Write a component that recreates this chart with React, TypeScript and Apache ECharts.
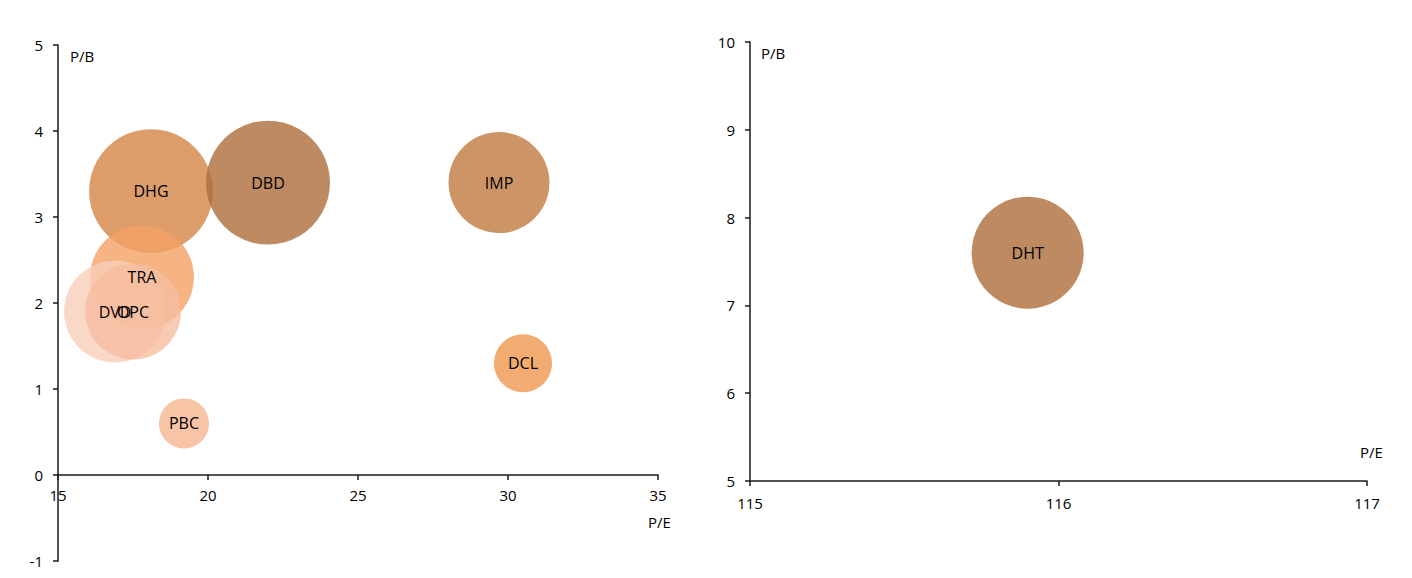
import React, { useEffect, useRef } from "react";
import * as echarts from "echarts";

// ---- Data ----
const leftNames = ["DHG", "DBD", "IMP", "TRA", "DVD", "OPC", "DCL", "PBC"];
const leftPE = [18.1, 22.0, 29.7, 17.8, 16.9, 17.5, 30.5, 19.2];
const leftPB = [3.3, 3.4, 3.4, 2.3, 1.9, 1.9, 1.3, 0.6];
const leftSize = [38.4, 38.4, 25.5, 27.0, 26.0, 23.0, 8.4, 6.25];

const rightNames = ["DHT"];
const rightPE = [115.9];
const rightPB = [7.6];
const rightSize = [31.4];

const leftXTicks = [15, 20, 25, 30, 35];
const leftYTicks = [-1, 0, 1, 2, 3, 4, 5];
const rightXTicks = [115, 116, 117];
const rightYTicks = [5, 6, 7, 8, 9, 10];

// ---- Styles ----
const bubbleColors: Record<string, string> = {
  DHG: "rgba(211,133,70,0.8)",
  DBD: "rgba(173,109,58,0.8)",
  IMP: "rgba(193,123,64,0.8)",
  TRA: "rgba(244,161,101,0.8)",
  DVD: "rgba(249,206,186,0.8)",
  OPC: "rgba(246,189,159,0.8)",
  DCL: "rgba(239,151,79,0.8)",
  PBC: "rgba(246,181,144,0.8)",
  DHT: "rgba(174,109,59,0.8)",
};

const FONT = "'Open Sans', 'Noto Sans', sans-serif";
const AXIS_COLOR = "#1a1a1a";

const L_GRID = { left: 58, top: 45, width: 600, height: 516 };
const R_GRID = { left: 750, top: 42, width: 617, height: 439 };

function buildData(names: string[], pe: number[], pb: number[], size: number[]) {
  return names.map((n, i) => ({
    name: n,
    value: [pe[i], pb[i], size[i]],
    itemStyle: { color: bubbleColors[n], opacity: 1 },
  }));
}

function axisCommon() {
  return {
    type: "value" as const,
    splitLine: { show: false },
    axisLine: { show: true, onZero: false, lineStyle: { color: AXIS_COLOR, width: 1.5 } },
    axisTick: { show: true, length: 5, lineStyle: { color: AXIS_COLOR, width: 1.5 } },
    axisLabel: { color: "#000", fontSize: 15, fontFamily: FONT },
  };
}

export default function App() {
  const ref = useRef<HTMLDivElement>(null);

  useEffect(() => {
    if (!ref.current) return;
    const chart = echarts.init(ref.current, undefined, { renderer: "svg" });

    const labelStyle = {
      show: true,
      position: "inside" as const,
      formatter: "{b}",
      color: "#000",
      opacity: 1,
      fontSize: 16,
      fontFamily: FONT,
    };

    const lyMin = leftYTicks[0];
    const lyMax = leftYTicks[leftYTicks.length - 1];
    const zeroOffset = -((0 - lyMin) / (lyMax - lyMin)) * L_GRID.height;

    chart.setOption({
      animation: false,
      backgroundColor: "#fff",
      grid: [
        { ...L_GRID, outerBoundsMode: "none", containLabel: false },
        { ...R_GRID, outerBoundsMode: "none", containLabel: false },
      ],
      xAxis: [
        {
          ...axisCommon(),
          gridIndex: 0,
          position: "bottom",
          offset: zeroOffset,
          min: leftXTicks[0],
          max: leftXTicks[leftXTicks.length - 1],
          interval: 5,
          axisLabel: { ...axisCommon().axisLabel, margin: 12 },
        },
        {
          ...axisCommon(),
          gridIndex: 1,
          min: rightXTicks[0],
          max: rightXTicks[rightXTicks.length - 1],
          interval: 1,
          axisLabel: { ...axisCommon().axisLabel, margin: 14 },
        },
      ],
      yAxis: [
        {
          ...axisCommon(),
          gridIndex: 0,
          min: lyMin,
          max: lyMax,
          interval: 1,
          axisLabel: { ...axisCommon().axisLabel, margin: 15 },
        },
        {
          ...axisCommon(),
          gridIndex: 1,
          min: rightYTicks[0],
          max: rightYTicks[rightYTicks.length - 1],
          interval: 1,
          axisLabel: { ...axisCommon().axisLabel, margin: 15 },
        },
      ],
      series: [
        {
          type: "scatter",
          xAxisIndex: 0,
          yAxisIndex: 0,
          symbol: "circle",
          symbolSize: (v: number[]) => 20 * Math.sqrt(v[2]),
          label: labelStyle,
          emphasis: { disabled: true },
          data: buildData(leftNames, leftPE, leftPB, leftSize),
        },
        {
          type: "scatter",
          xAxisIndex: 1,
          yAxisIndex: 1,
          symbol: "circle",
          symbolSize: (v: number[]) => 20 * Math.sqrt(v[2]),
          label: labelStyle,
          emphasis: { disabled: true },
          data: buildData(rightNames, rightPE, rightPB, rightSize),
        },
      ],
      graphic: [
        {
          type: "text",
          x: 70,
          y: 56,
          style: { text: "P/B", fill: "#000", font: `15px ${FONT}`, verticalAlign: "middle" },
        },
        {
          type: "text",
          x: 648,
          y: 522,
          style: { text: "P/E", fill: "#000", font: `15px ${FONT}`, verticalAlign: "middle" },
        },
        {
          type: "text",
          x: 761,
          y: 53,
          style: { text: "P/B", fill: "#000", font: `15px ${FONT}`, verticalAlign: "middle" },
        },
        {
          type: "text",
          x: 1360,
          y: 452,
          style: { text: "P/E", fill: "#000", font: `15px ${FONT}`, verticalAlign: "middle" },
        },
      ],
    });

    return () => chart.dispose();
  }, []);

  return (
    <div
      ref={ref}
      style={{ position: "absolute", left: 0, top: 0, width: 1412, height: 578 }}
    />
  );
}
